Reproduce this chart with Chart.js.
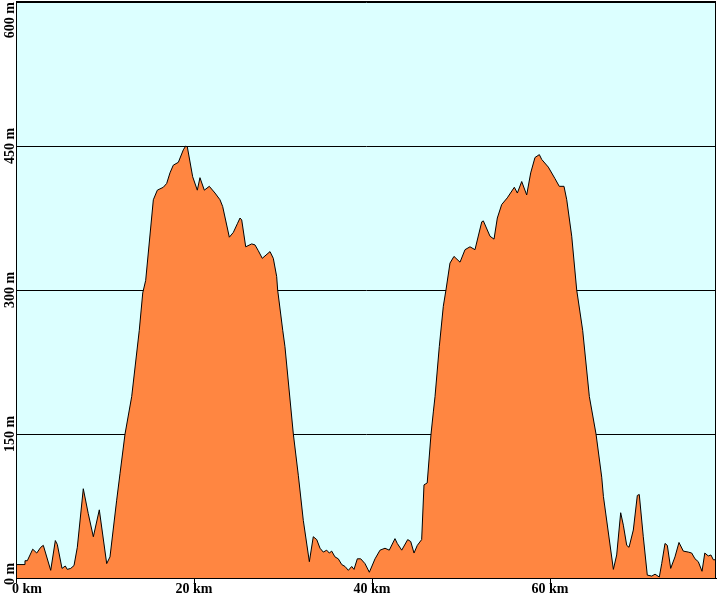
<!DOCTYPE html>
<html>
<head>
<meta charset="utf-8">
<script src="https://cdn.jsdelivr.net/npm/chart.js@4/dist/chart.umd.min.js"></script>
<style>
  body{margin:0;background:#fff;}
  canvas{display:block;}
</style>
</head>
<body>
<canvas id="perfil" width="718" height="595"></canvas>
<script>
const distanciasKm = [0, 0.9, 1.01, 1.27, 1.88, 2.33, 2.78, 3.07, 3.9, 4.42, 4.64, 5.17, 5.54, 5.76, 6.15, 6.52, 6.89, 7.56, 8.12, 8.69,
  9.36, 10.19, 10.56, 11.31, 11.69, 12.25, 13.0, 13.85, 14.24, 14.57, 15.43, 15.88, 16.55, 16.93, 17.3, 17.67, 18.24, 18.8, 19.07, 19.25,
  19.85, 20.37, 20.67, 21.16, 21.72, 22.36, 22.92, 23.22, 23.97, 24.42, 24.87, 25.17, 25.36, 25.81, 26.48, 26.85, 27.22, 27.67, 28.54, 28.91,
  29.29, 29.4, 29.97, 30.22, 31.16, 31.72, 32.28, 32.96, 33.4, 33.79, 34.16, 34.53, 34.91, 35.2, 35.47, 35.84, 36.21, 36.6, 36.97, 37.34,
  37.72, 37.98, 38.35, 38.73, 39.21, 39.7, 40.34, 40.9, 41.46, 41.94, 42.58, 42.84, 43.34, 44.01, 44.35, 44.72, 45.09, 45.58, 45.84, 46.2,
  46.63, 46.89, 47.08, 47.56, 48.01, 48.31, 48.76, 49.21, 49.89, 50.45, 51.01, 51.57, 52.33, 52.51, 53.26, 53.71, 54.08, 54.57, 55.2, 55.99,
  56.33, 56.82, 57.38, 57.83, 58.31, 58.8, 59.07, 59.81, 60.56, 61.04, 61.57, 61.88, 62.44, 63.0, 63.67, 64.42, 65.17, 65.81, 66.0, 67.12,
  67.49, 67.94, 68.24, 68.62, 68.88, 69.36, 69.81, 70.03, 70.48, 70.93, 71.43, 71.8, 72.28, 72.55, 72.92, 73.18, 73.56, 74.04, 74.49, 74.98,
  75.54, 75.92, 76.29, 76.66, 77.08, 77.39, 77.78, 78.08, 78.35, 78.65];
const altitudesM = [14, 14, 18, 18, 30, 26, 32, 34, 8, 39, 35, 10, 12.5, 9, 10, 13, 32, 93, 67, 43,
  71, 15, 22, 81, 109, 150, 189, 258, 297, 310, 394, 404, 407, 411, 422, 430, 433, 446, 450, 449,
  418, 404, 417, 404, 408, 401, 394, 387, 355, 360, 369, 375, 373, 345, 348, 347, 341, 333, 340, 333,
  314, 300, 258, 241, 150, 107, 60, 17, 43, 40, 31, 27, 29, 26, 28, 22, 20, 14, 12, 8,
  12, 9, 20, 20, 15, 6, 20, 29, 31, 29, 41, 36, 29, 40, 38, 26, 34, 40, 97, 99,
  150, 173, 189, 241, 283, 300, 328, 335, 329, 342, 345, 342, 371, 372, 356, 353, 375, 389, 396, 407,
  401, 413, 399, 422, 438, 441, 436, 428, 416, 408, 408, 394, 356, 300, 258, 189, 150, 105, 85, 9,
  24, 68, 55, 34, 32, 50, 86, 87, 43, 3, 2, 4, 1, 15, 36, 34, 10, 22, 37, 28,
  27, 26, 20, 17, 7, 26, 23, 24, 19, 19];
const ticksKm = [0, 20, 40, 60];
const ticksM = [0, 150, 300, 450, 600];

const fuente = 'bold 14px "Liberation Serif", "Times New Roman", serif';

const fondo = {
  id: 'fondo',
  beforeDraw(chart){
    const {ctx, chartArea:a} = chart;
    ctx.save();
    ctx.fillStyle = '#fff';
    ctx.fillRect(0, 0, chart.width, chart.height);
    ctx.fillStyle = '#dcffff';
    ctx.fillRect(a.left, a.top, a.right - a.left, a.bottom - a.top);
    ctx.restore();
  }
};

const etiquetas = {
  id: 'etiquetas',
  afterDraw(chart){
    const {ctx, chartArea:a} = chart;
    const x = chart.scales.x, y = chart.scales.y;
    ctx.save();
    ctx.strokeStyle = '#000'; ctx.lineWidth = 1;
    ctx.strokeRect(a.left + 0.5, a.top - 0.5, a.right - a.left - 1, a.bottom - a.top + 1);
    ctx.fillStyle = '#000';
    ctx.font = fuente;
    ctx.textAlign = 'center';
    ctx.textBaseline = 'alphabetic';
    ticksKm.forEach(v => {
      const txt = v + ' km';
      const w = ctx.measureText(txt).width;
      const px = Math.max(x.getPixelForValue(v), 12 + w / 2);
      ctx.fillText(txt, px, 593);
    });
    ticksM.forEach(v => {
      const txt = v + ' m';
      const w = ctx.measureText(txt).width;
      let py = y.getPixelForValue(v);
      py = Math.min(Math.max(py, 2 + w / 2), 585 - w / 2);
      ctx.save();
      ctx.translate(14, py);
      ctx.rotate(-Math.PI / 2);
      ctx.fillText(txt, 0, 0);
      ctx.restore();
    });
    ctx.restore();
  }
};

new Chart(document.getElementById('perfil'), {
  type: 'line',
  data: {
    datasets: [{
      data: distanciasKm.map((d, i) => ({x: d, y: altitudesM[i]})),
      borderColor: '#000',
      borderWidth: 1,
      backgroundColor: '#ff8641',
      fill: 'origin',
      pointRadius: 0,
      tension: 0
    }]
  },
  options: {
    responsive: false,
    animation: false,
    devicePixelRatio: 1,
    layout: {padding: {left: 16, right: 2, top: 2, bottom: 12}},
    plugins: {legend: {display: false}, tooltip: {enabled: false}},
    scales: {
      x: {
        type: 'linear', min: 0, max: 78.65,
        ticks: {display: false, stepSize: 20, includeBounds: false},
        grid: {drawOnChartArea: false, drawTicks: true, tickLength: 5, color: '#000'},
        border: {display: true, color: '#000'}
      },
      y: {
        min: 0, max: 600, z: 1,
        ticks: {display: false, stepSize: 150},
        grid: {color: '#000', drawTicks: false, lineWidth: 1},
        border: {display: true, color: '#000'}
      }
    }
  },
  plugins: [fondo, etiquetas]
});
</script>
</body>
</html>
